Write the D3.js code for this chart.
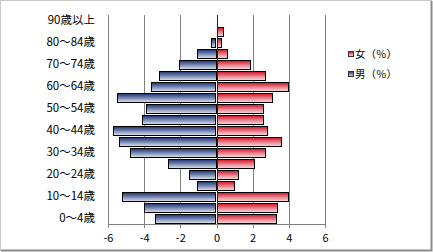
<!DOCTYPE html>
<html>
<head>
<meta charset="utf-8">
<script src="https://cdn.jsdelivr.net/npm/d3@7"></script>
<style>
  body { margin: 0; background: #fff; }
  text { font-family: "Noto Sans CJK JP", "DejaVu Sans", sans-serif; fill: #000; }
</style>
</head>
<body>
<script>
// age groups, bottom to top
var ages = ["0～4歳", "5～9歳", "10～14歳", "15～19歳", "20～24歳", "25～29歳", "30～34歳",
  "35～39歳", "40～44歳", "45～49歳", "50～54歳", "55～59歳", "60～64歳", "65～69歳",
  "70～74歳", "75～79歳", "80～84歳", "85～89歳", "90歳以上"];
var male = [-3.4, -4.0, -5.2, -1.1, -1.5, -2.7, -4.8, -5.4, -5.7, -4.1, -3.9, -5.5, -3.6, -3.2, -2.1, -1.1, -0.3, 0, -0.05];
var female = [3.3, 3.4, 4.0, 1.0, 1.2, 2.1, 2.7, 3.6, 2.8, 2.6, 2.6, 3.1, 4.0, 2.7, 1.9, 0.6, 0.3, 0.4, 0.05];
var xTicks = [-6, -4, -2, 0, 2, 4, 6];
var legendItems = [{ name: "女（％）", key: "f" }, { name: "男（％）", key: "m" }];

var svgWidth = 433, svgHeight = 252;
var margin = { top: 15, left: 108, right: 108, bottom: 28 };
var width = 325 - margin.left;
var height = 224 - margin.top;

var svg = d3.select("body").append("svg")
  .attr("width", svgWidth)
  .attr("height", svgHeight);

// gradients like the office style fills
var defs = svg.append("defs");
function grad(id, stops) {
  var g = defs.append("linearGradient").attr("id", id)
    .attr("x1", 0).attr("y1", 0).attr("x2", 0).attr("y2", 1);
  stops.forEach(function (s) {
    g.append("stop").attr("offset", s[0]).attr("stop-color", s[1]);
  });
}
grad("gm", [[0, "#1b326e"], [0.45, "#6f7fab"], [1, "#e2e6f1"]]);
grad("gf", [[0, "#d2101e"], [0.45, "#e47480"], [1, "#f8e0e3"]]);

// outer frame
svg.append("rect")
  .attr("x", 0.5).attr("y", 0.5)
  .attr("width", svgWidth - 2).attr("height", svgHeight - 2)
  .attr("fill", "#fff").attr("stroke", "#c8c8c8");
svg.append("path")
  .attr("d", `M${svgWidth - 1.5},1 V${svgHeight - 1.5} H1`)
  .attr("fill", "none").attr("stroke", "#8c8c8c").attr("stroke-width", 2);

var chart = svg.append("g")
  .attr("transform", `translate(${margin.left}, ${margin.top})`);

var x = d3.scaleLinear().domain([-6, 6]).range([0, width]);
var y = d3.scaleBand().domain(ages.slice().reverse()).range([0, height]).paddingInner(0.1).paddingOuter(0.05);

// gridlines
chart.append("g")
  .call(d3.axisBottom(x).tickValues(xTicks.filter(d => d != 0)).tickSize(height).tickFormat(""))
  .call(g => g.select(".domain").remove())
  .call(g => g.selectAll("line").attr("stroke", "#808080").attr("shape-rendering", "crispEdges"));

// x axis
var xAxis = chart.append("g")
  .attr("transform", `translate(0, ${height})`)
  .call(d3.axisBottom(x).tickValues(xTicks).tickSize(4).tickPadding(6).tickFormat(d3.format("d")));
xAxis.select(".domain").attr("stroke", "#808080").attr("shape-rendering", "crispEdges");
xAxis.selectAll("line").attr("stroke", "#808080").attr("shape-rendering", "crispEdges");
xAxis.selectAll("text").style("font-size", "11px").text(d => d < 0 ? "-" + Math.abs(d) : d);

// y labels, every other category
var yAxis = chart.append("g")
  .call(d3.axisLeft(y).tickSize(0).tickPadding(13)
    .tickFormat(d => ages.indexOf(d) % 2 == 0 ? d : ""));
yAxis.select(".domain").remove();
yAxis.selectAll("text").style("font-size", "11.5px");

// bars
function drawBars(vals, fill) {
  chart.append("g").selectAll("rect")
    .data(vals)
    .enter().append("rect")
    .attr("x", d => Math.round(x(Math.min(0, d))) + 0.5)
    .attr("y", (d, i) => Math.round(y(ages[i])) + 0.5)
    .attr("width", d => Math.max(0, Math.round(Math.abs(x(d) - x(0))) - 1))
    .attr("height", Math.round(y.bandwidth()) - 1)
    .attr("fill", fill)
    .attr("stroke", "#000")
    .attr("stroke-width", 1);
}
drawBars(male, "url(#gm)");
drawBars(female, "url(#gf)");

// category axis at zero
chart.append("line")
  .attr("x1", Math.round(x(0)) + 0.5).attr("x2", Math.round(x(0)) + 0.5)
  .attr("y1", 0).attr("y2", height)
  .attr("stroke", "#222");

// legend
var legend = svg.append("g").attr("transform", "translate(348, 51)");
var li = legend.selectAll("g").data(legendItems).enter().append("g")
  .attr("transform", (d, i) => `translate(0, ${i * 20})`);
li.append("rect")
  .attr("x", 0.5).attr("y", 0.5).attr("width", 5).attr("height", 5)
  .attr("fill", d => d.key == "f" ? "url(#gf)" : "url(#gm)")
  .attr("stroke", "#333");
li.append("text")
  .attr("x", 7).attr("y", 3).attr("dy", "0.36em")
  .style("font-size", "10.5px")
  .text(d => d.name);
</script>
</body>
</html>
